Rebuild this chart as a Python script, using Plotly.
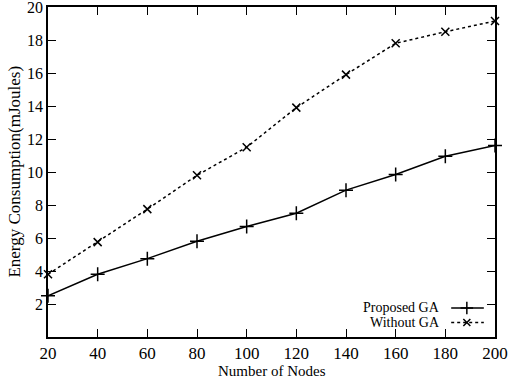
import plotly.graph_objects as go

nodes = [20, 40, 60, 80, 100, 120, 140, 160, 180, 200]
proposed_ga = [2.5, 3.8, 4.75, 5.8, 6.7, 7.5, 8.9, 9.85, 10.95, 11.6]
without_ga = [3.8, 5.75, 7.75, 9.8, 11.5, 13.9, 15.9, 17.8, 18.5, 19.15]
y_ticks = [2, 4, 6, 8, 10, 12, 14, 16, 18, 20]
x_ticks = [20, 40, 60, 80, 100, 120, 140, 160, 180, 200]

font = "Liberation Serif"

fig = go.Figure()
fig.add_trace(go.Scatter(
    x=nodes, y=proposed_ga, mode="lines+markers", name="Proposed GA",
    line=dict(color="black", width=1.5),
    marker=dict(symbol="cross-thin", size=10, line=dict(color="black", width=1.5)),
    showlegend=False, cliponaxis=False))
fig.add_trace(go.Scatter(
    x=nodes, y=without_ga, mode="lines+markers", name="Without GA",
    line=dict(color="black", width=1.5, dash="dot"),
    marker=dict(symbol="x-thin", size=8, line=dict(color="black", width=1.5)),
    showlegend=False, cliponaxis=False))

# manual legend (gnuplot style: text right-aligned, sample after)
legend_items = [("Proposed GA", "solid", "cross-thin"), ("Without GA", "dot", "x-thin")]
for i, (label, dash, sym) in enumerate(legend_items):
    yy = 0.088 - i * 0.044
    fig.add_annotation(xref="paper", yref="paper", x=0.882, y=yy, text=label,
                       showarrow=False, xanchor="right", yanchor="middle",
                       font=dict(family=font, size=14, color="black"))
    fig.add_shape(type="line", xref="paper", yref="paper", x0=0.902, x1=0.975,
                  y0=yy, y1=yy, line=dict(color="black", width=1.5, dash=dash))
    fig.add_trace(go.Scatter(x=[0.937], y=[yy], xaxis="x2", yaxis="y2", mode="markers",
                             marker=dict(symbol=sym, size=9 if sym == "cross-thin" else 7,
                                         line=dict(color="black", width=1.5)),
                             showlegend=False, hoverinfo="skip", cliponaxis=False))

# x-axis title as annotation for exact placement
fig.add_annotation(xref="paper", yref="paper", x=0.5, y=-0.103, text="Number of Nodes",
                   showarrow=False, xanchor="center", yanchor="middle",
                   font=dict(family=font, size=15, color="black"))
# y-axis title as annotation
fig.add_annotation(xref="paper", yref="paper", x=-0.077, y=0.5,
                   text="Energy Consumption(mJoules)", textangle=-90,
                   showarrow=False, xanchor="center", yanchor="middle",
                   font=dict(family=font, size=17, color="black"))

fig.update_layout(
    width=511, height=379,
    margin=dict(l=48, r=16, t=7, b=42),
    paper_bgcolor="white", plot_bgcolor="white",
    font=dict(family=font, size=15, color="black"),
    xaxis=dict(range=[20, 200], tickvals=x_ticks, ticks="inside", ticklen=8,
               tickwidth=1, tickcolor="black", showline=True, linecolor="black",
               linewidth=1.5, mirror="ticks", showgrid=False, zeroline=False,
               tickfont=dict(family=font, size=17), automargin=False,
               ticklabeloverflow="allow"),
    yaxis=dict(range=[0, 20], tickvals=y_ticks, ticks="inside", ticklen=8,
               tickwidth=1, tickcolor="black", showline=True, linecolor="black",
               linewidth=1.5, mirror="ticks", showgrid=False, zeroline=False,
               tickfont=dict(family=font, size=16), automargin=False,
               ticklabeloverflow="allow"),
    xaxis2=dict(range=[0, 1], overlaying="x", visible=False, anchor="y2"),
    yaxis2=dict(range=[0, 1], overlaying="y", visible=False, anchor="x2"),
)

fig.write_html("out.html", config={"displayModeBar": False},
               post_script="document.body.style.margin='0px';")
